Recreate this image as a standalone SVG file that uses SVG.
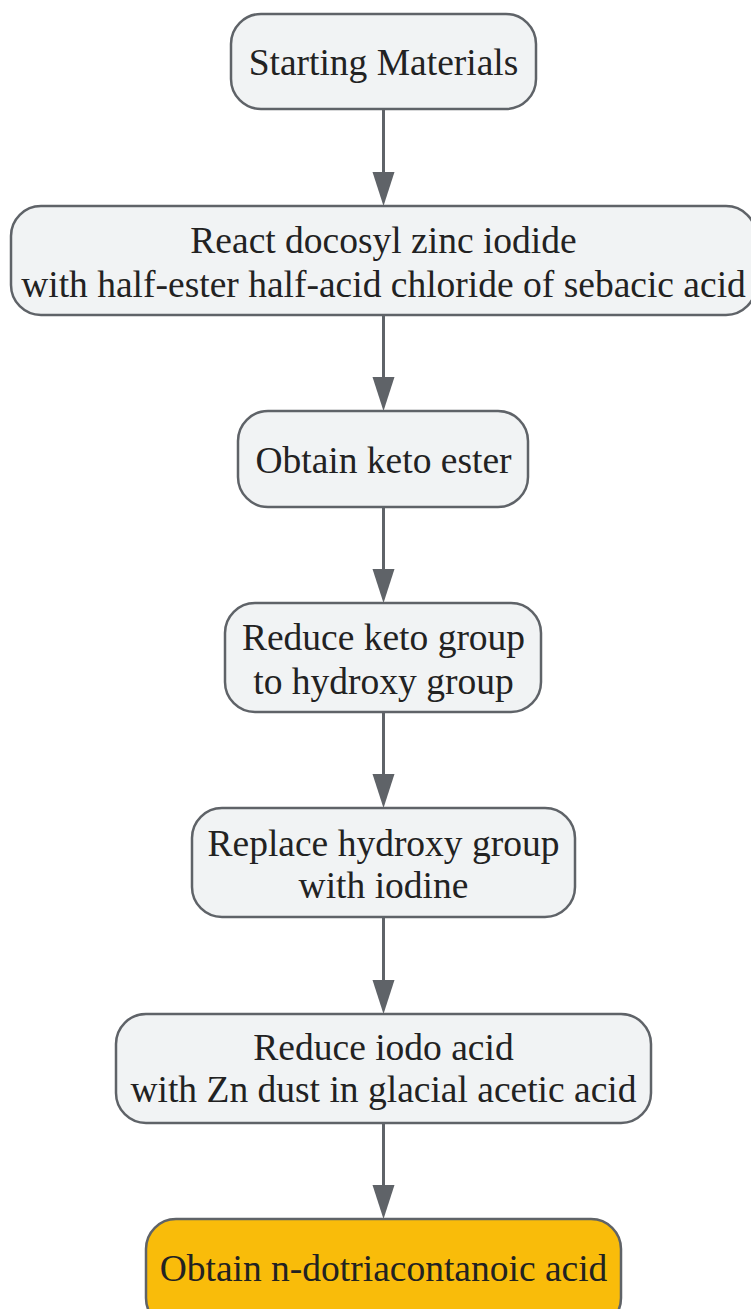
<svg xmlns="http://www.w3.org/2000/svg" width="751" height="1309" viewBox="0 0 751 1309">
<defs>
<style>
.n{fill:#f1f3f4;stroke:#5f6368;stroke-width:2.5}
.f{fill:#f9bc0a;stroke:#5f6368;stroke-width:2.5}
.t{font-family:"Liberation Serif",serif;font-size:37.5px;fill:#222;text-anchor:middle}
.e{stroke:#5f6368;stroke-width:3;fill:none}
.h{fill:#5f6368}
</style>
</defs>
<rect width="751" height="1309" fill="#fff"/>
<g id="edges">
<path class="e" d="M383.5,109 V174"/>
<path class="e" d="M383.5,315 V379"/>
<path class="e" d="M383.5,507 V571"/>
<path class="e" d="M383.5,712 V776"/>
<path class="e" d="M383.5,917 V982"/>
<path class="e" d="M383.5,1123 V1187"/>
<path class="h" d="M372.5,172 L394.5,172 L383.5,206 Z"/>
<path class="h" d="M372.5,377 L394.5,377 L383.5,411 Z"/>
<path class="h" d="M372.5,569 L394.5,569 L383.5,603 Z"/>
<path class="h" d="M372.5,774 L394.5,774 L383.5,808 Z"/>
<path class="h" d="M372.5,980 L394.5,980 L383.5,1014 Z"/>
<path class="h" d="M372.5,1185 L394.5,1185 L383.5,1219 Z"/>
</g>
<g id="n1"><rect class="n" x="231" y="14" width="305" height="95" rx="30"/><text class="t" x="383.5" y="75">Starting Materials</text></g>
<g id="n2"><rect class="n" x="11" y="206" width="745" height="109" rx="30"/><text class="t" x="383.5" y="253">React docosyl zinc iodide</text><text class="t" x="383.5" y="297">with half-ester half-acid chloride of sebacic acid</text></g>
<g id="n3"><rect class="n" x="238" y="411" width="290" height="96" rx="30"/><text class="t" x="383.5" y="473">Obtain keto ester</text></g>
<g id="n4"><rect class="n" x="225" y="603" width="316" height="109" rx="30"/><text class="t" x="383.5" y="650">Reduce keto group</text><text class="t" x="383.5" y="694">to hydroxy group</text></g>
<g id="n5"><rect class="n" x="192" y="808" width="383" height="109" rx="30"/><text class="t" x="383.5" y="856">Replace hydroxy group</text><text class="t" x="383.5" y="898">with iodine</text></g>
<g id="n6"><rect class="n" x="116" y="1014" width="535" height="109" rx="30"/><text class="t" x="383.5" y="1060">Reduce iodo acid</text><text class="t" x="383.5" y="1102">with Zn dust in glacial acetic acid</text></g>
<g id="n7"><rect class="f" x="146" y="1219" width="475" height="109" rx="30"/><text class="t" x="383.5" y="1281">Obtain n-dotriacontanoic acid</text></g>
</svg>
